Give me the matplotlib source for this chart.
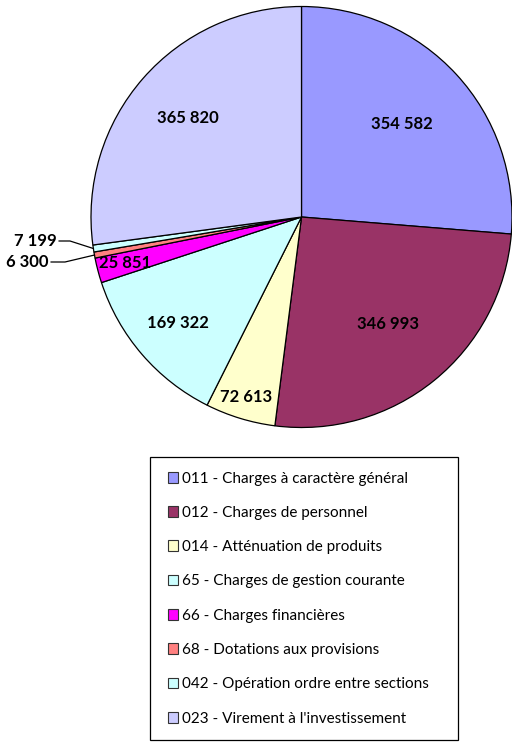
import matplotlib.pyplot as plt
import matplotlib.patches as mpatches
import numpy as np

plt.rcParams['font.family'] = ['Lato', 'DejaVu Sans']

# données
labels = ["011 - Charges à caractère général",
          "012 - Charges de personnel",
          "014 - Atténuation de produits",
          "65 - Charges de gestion courante",
          "66 - Charges financières",
          "68 - Dotations aux provisions",
          "042 - Opération ordre entre sections",
          "023 - Virement à l'investissement"]
values = [354582, 346993, 72613, 169322, 25851, 6300, 7199, 365820]
value_text = ["354 582", "346 993", "72 613", "169 322", "25 851", "6 300", "7 199", "365 820"]
colors = ['#9999FF', '#993366', '#FFFFCC', '#CCFFFF', '#FF00FF', '#FF8080', '#CCFFFF', '#CCCCFF']

# position des étiquettes (fraction du rayon), None = étiquette extérieure
label_r = [0.65, 0.655, 0.895, 0.775, 0.866, None, None, 0.717]

fig = plt.figure(figsize=(5.12, 7.42), dpi=100)
ax = fig.add_axes([91 / 512, 314.5 / 742, 421 / 512, 421 / 742])
wedges, _ = ax.pie(values, colors=colors, startangle=90, counterclock=False,
                   radius=1, wedgeprops=dict(edgecolor='black', linewidth=0.9))
ax.set_xlim(-1, 1)
ax.set_ylim(-1, 1)
ax.set_aspect('equal')
ax.axis('off')

# étiquettes dans les secteurs
for w, r, t in zip(wedges, label_r, value_text):
    if r is None:
        continue
    a = np.deg2rad((w.theta1 + w.theta2) / 2)
    ax.text(r * np.cos(a), r * np.sin(a), t, ha='center', va='center',
            fontsize=12, fontweight='bold')

# étiquettes extérieures avec traits de rappel
px = 210.5
outside = {5: 262, 6: 241}  # index -> y pixel de l'étiquette
for i, ypix in outside.items():
    w = wedges[i]
    a = np.deg2rad((w.theta1 + w.theta2) / 2)
    ex, ey = np.cos(a), np.sin(a)
    ty = (217 - ypix) / px
    x_end = (65 - 301.5) / px if i == 5 else (70 - 301.5) / px
    x_txt = (49 - 301.5) / px if i == 5 else (57 - 301.5) / px
    ax.plot([ex, x_end, x_txt + 0.01], [ey, ty, ty], color='black', lw=0.9, clip_on=False)
    ax.text(x_txt, ty, value_text[i], ha='right', va='center', fontsize=12,
            fontweight='bold', clip_on=False)

# légende sans cadre + cadre dessiné à part
leg = fig.legend(wedges, labels, loc='upper left',
                 bbox_to_anchor=(153 / 512, 1 - 457 / 742),
                 fontsize=11, frameon=False,
                 handlelength=0.7, handleheight=0.7, handletextpad=0.25,
                 labelspacing=1.33, borderpad=0.95, borderaxespad=0)
for h in leg.legend_handles:
    h.set_edgecolor('#333333')
    h.set_linewidth(0.8)

frame = mpatches.Rectangle((150 / 512, 1 - 740 / 742), 308 / 512, 283 / 742,
                           transform=fig.transFigure, facecolor='none',
                           edgecolor='black', linewidth=0.9)
fig.add_artist(frame)

fig.savefig('out.png', dpi=100)
